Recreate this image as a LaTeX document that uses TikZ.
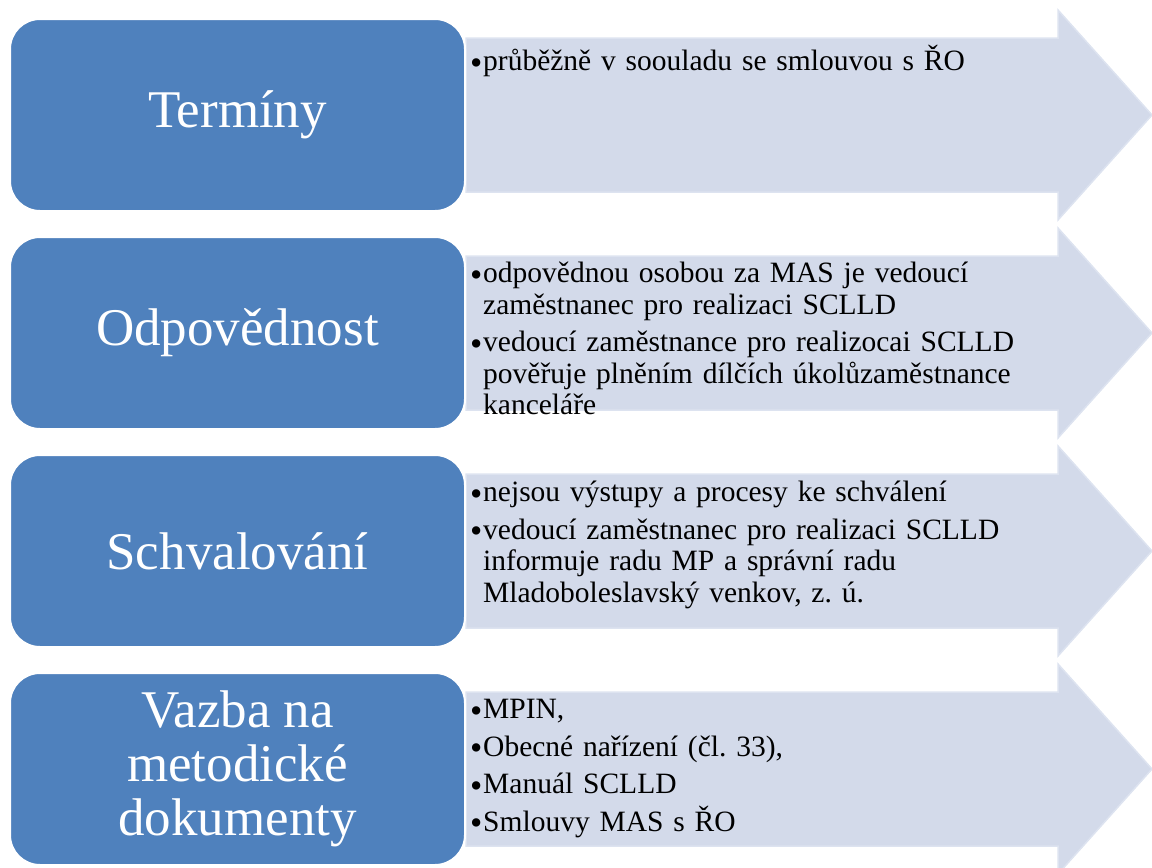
\documentclass[tikz,border=0pt]{standalone}
\usepackage{fontspec}
\setmainfont{Liberation Serif}
\definecolor{boxblue}{HTML}{4F81BD}
\definecolor{arrowfill}{HTML}{D3DAEA}
\definecolor{arrowedge}{HTML}{DDE3F0}
\newcommand{\bitem}[1]{\hangindent=13pt\hangafter=1\noindent\makebox[13pt][l]{\raisebox{-3.5pt}{\fontsize{35}{30}\selectfont•}}#1\par}
\tikzset{
  titlebox/.style={draw=white, line width=2pt, fill=boxblue, rounded corners=30pt,
    minimum width=455pt, minimum height=192pt, text=white, align=center,
    font=\fontsize{53}{54}\selectfont},
  bodytext/.style={anchor=north west, inner sep=0pt, text width=575pt,
    font=\fontsize{29.5}{31.5}\selectfont}
}
\newcommand{\bodyfmt}{\raggedright\frenchspacing\hyphenpenalty=10000\exhyphenpenalty=10000\setlength{\parskip}{6pt}}
\tikzset{arrowshape/.style={fill=arrowfill, draw=arrowedge, line width=1.5pt}}
\begin{document}
\begin{tikzpicture}[x=1pt,y=-1pt]
\useasboundingbox (0,0) rectangle (1152,868);
\clip (0,0) rectangle (1152,868);
\foreach \o in {0,218,436,654}{
  \path[arrowshape] (466,38+\o) -- (1058,38+\o) -- (1058,10+\o) -- (1152,115+\o)
     -- (1058,220+\o) -- (1058,192+\o) -- (466,192+\o) -- cycle;
}
\node[titlebox] (t1) at (237.5,115) {\raisebox{-4pt}{Termíny}};
\node[titlebox] (t2) at (237.5,333) {\raisebox{-3pt}{Odpovědnost}};
\node[titlebox] (t3) at (237.5,551) {\raisebox{-3pt}{Schvalování}};
\node[titlebox] (t4) at (237.5,769) {\raisebox{-3pt}{\parbox{440pt}{\centering Vazba na\\metodické\\dokumenty}}};
\node[bodytext] (b1) at (470,45) {\bodyfmt\bitem{průběžně v soouladu se smlouvou s ŘO}};
\node[bodytext] (b2) at (470,262) {\bodyfmt\bitem{odpovědnou osobou za MAS je vedoucí zaměstnanec pro realizaci SCLLD}\bitem{vedoucí zaměstnance pro realizocai SCLLD pověřuje plněním dílčích úkolůzaměstnance kanceláře}};
\node[bodytext] (b3) at (470,481) {\bodyfmt\bitem{nejsou výstupy a procesy ke schválení}\bitem{vedoucí zaměstnanec pro realizaci SCLLD informuje radu MP a správní radu Mladoboleslavský venkov, z. ú.}};
\node[bodytext] (b4) at (470,699) {\bodyfmt\bitem{MPIN,}\bitem{Obecné nařízení (čl. 33),}\bitem{Manuál SCLLD}\bitem{Smlouvy MAS s ŘO}};
\end{tikzpicture}
\end{document}
